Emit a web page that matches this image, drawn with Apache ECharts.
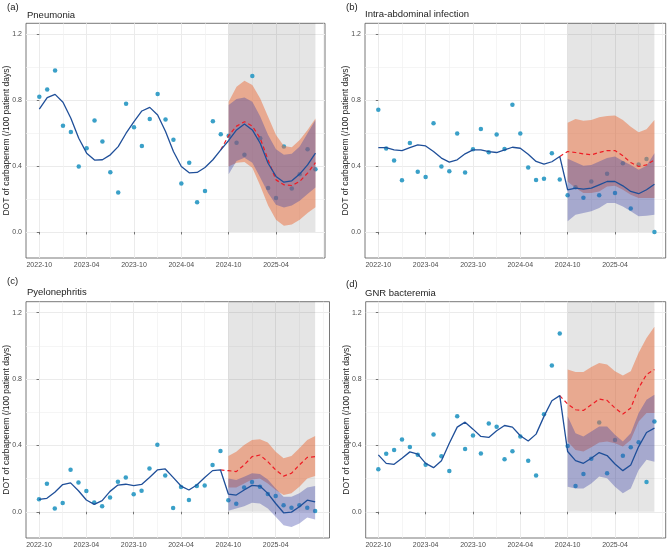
<!DOCTYPE html>
<html>
<head>
<meta charset="utf-8">
<script src="https://cdn.jsdelivr.net/npm/echarts@6/dist/echarts.min.js"></script>
<style>
    html, body { margin: 0; padding: 0; background: #fff; }
    #chart { width: 669px; height: 550px; }
</style>
</head>
<body>
<div id="chart"></div>
<script>
// months are counted from 2022-10 (index 0) to 2025-09 (index 35)
var xTickValues = [0, 6, 12, 18, 24, 30];
var xTickLabels = ['2022-10', '2023-04', '2023-10', '2024-04', '2024-10', '2025-04'];
var xMinorValues = [3, 9, 15, 21, 27, 33, 36];
var yTickValues = [0, 0.4, 0.8, 1.2];
var yMinorValues = [0.2, 0.6, 1.0];
var shadeMonths = [24, 35];
var forecastStart = 24;   // first month of the bands
var counterStart = 23;    // red dashed line starts one month earlier

// (a) Pneumonia
var pneumoniaObs  = [0.82, 0.865, 0.98, 0.645, 0.607, 0.397, 0.508, 0.676, 0.549, 0.363, 0.24, 0.778, 0.635, 0.522, 0.686, 0.837, 0.682, 0.559, 0.294, 0.42, 0.18, 0.248, 0.672, 0.593, 0.583, 0.542, 0.468, 0.947, 0.569, 0.266, 0.206, 0.518, 0.264, 0.35, 0.502, 0.381];
var pneumoniaFit  = [0.746, 0.815, 0.835, 0.787, 0.69, 0.569, 0.478, 0.436, 0.438, 0.468, 0.518, 0.599, 0.67, 0.734, 0.756, 0.71, 0.609, 0.488, 0.397, 0.359, 0.361, 0.391, 0.438, 0.498, 0.555, 0.619, 0.655, 0.619, 0.538, 0.417, 0.337, 0.302, 0.31, 0.351, 0.407, 0.478];
var pneumoniaCf   = [0.498, 0.585, 0.642, 0.669, 0.642, 0.568, 0.437, 0.316, 0.286, 0.282, 0.306, 0.357, 0.421];
var pneumoniaCfHi = [0.79, 0.881, 0.917, 0.891, 0.81, 0.699, 0.588, 0.522, 0.514, 0.558, 0.619, 0.689];
var pneumoniaCfLo = [0.397, 0.42, 0.425, 0.39, 0.28, 0.16, 0.074, 0.038, 0.045, 0.074, 0.115, 0.15];
var pneumoniaFcHi = [0.77, 0.806, 0.816, 0.79, 0.7, 0.589, 0.502, 0.468, 0.474, 0.518, 0.599, 0.68];
var pneumoniaFcLo = [0.35, 0.43, 0.45, 0.42, 0.33, 0.236, 0.165, 0.149, 0.16, 0.19, 0.23, 0.27];

// (b) Intra-abdominal infection
var abdominalObs  = [0.742, 0.506, 0.434, 0.313, 0.539, 0.365, 0.333, 0.66, 0.397, 0.369, 0.597, 0.361, 0.502, 0.625, 0.484, 0.591, 0.504, 0.772, 0.597, 0.391, 0.315, 0.323, 0.478, 0.319, 0.222, 0.272, 0.208, 0.306, 0.222, 0.353, 0.236, 0.417, 0.143, 0.409, 0.442, 0.0];
var abdominalFit  = [0.512, 0.512, 0.498, 0.494, 0.512, 0.528, 0.522, 0.488, 0.448, 0.424, 0.438, 0.474, 0.498, 0.498, 0.488, 0.482, 0.498, 0.514, 0.508, 0.472, 0.428, 0.411, 0.426, 0.458, 0.256, 0.266, 0.26, 0.266, 0.286, 0.306, 0.306, 0.28, 0.246, 0.232, 0.256, 0.29];
var abdominalCf   = [0.458, 0.488, 0.482, 0.474, 0.468, 0.482, 0.494, 0.494, 0.462, 0.421, 0.397, 0.407, 0.438];
var abdominalCfHi = [0.663, 0.685, 0.675, 0.679, 0.696, 0.704, 0.706, 0.679, 0.639, 0.605, 0.623, 0.679];
var abdominalCfLo = [0.306, 0.266, 0.236, 0.236, 0.246, 0.276, 0.28, 0.256, 0.226, 0.206, 0.206, 0.206];
var abdominalFcHi = [0.444, 0.423, 0.401, 0.407, 0.427, 0.448, 0.458, 0.431, 0.407, 0.377, 0.401, 0.478];
var abdominalFcLo = [0.065, 0.105, 0.115, 0.125, 0.145, 0.175, 0.175, 0.155, 0.125, 0.095, 0.099, 0.105];

// (c) Pyelonephritis
var pyeloObs  = [0.076, 0.169, 0.02, 0.053, 0.253, 0.177, 0.125, 0.056, 0.034, 0.086, 0.181, 0.206, 0.105, 0.127, 0.261, 0.404, 0.219, 0.023, 0.15, 0.071, 0.155, 0.159, 0.282, 0.367, 0.07, 0.048, 0.147, 0.18, 0.151, 0.107, 0.095, 0.04, 0.024, 0.04, 0.024, 0.004];
var pyeloFit  = [0.075, 0.081, 0.118, 0.164, 0.174, 0.127, 0.071, 0.045, 0.067, 0.123, 0.161, 0.166, 0.157, 0.165, 0.207, 0.252, 0.258, 0.207, 0.155, 0.131, 0.161, 0.207, 0.248, 0.252, 0.107, 0.101, 0.131, 0.159, 0.155, 0.111, 0.05, -0.006, -0.002, 0.03, 0.07, 0.06];
var pyeloCf   = [0.252, 0.248, 0.242, 0.282, 0.332, 0.342, 0.302, 0.252, 0.215, 0.232, 0.282, 0.328, 0.332];
var pyeloCfHi = [0.336, 0.362, 0.403, 0.433, 0.437, 0.417, 0.362, 0.322, 0.336, 0.383, 0.433, 0.457];
var pyeloCfLo = [0.147, 0.147, 0.171, 0.195, 0.201, 0.171, 0.131, 0.101, 0.111, 0.151, 0.201, 0.215];
var pyeloFcHi = [0.201, 0.191, 0.211, 0.232, 0.228, 0.195, 0.141, 0.091, 0.091, 0.111, 0.147, 0.155];
var pyeloFcLo = [0.006, 0.02, 0.034, 0.054, 0.05, 0.02, -0.03, -0.081, -0.091, -0.07, -0.034, -0.046];

// (d) GNR bacteremia
var gnrObs  = [0.256, 0.349, 0.373, 0.435, 0.391, 0.343, 0.284, 0.466, 0.335, 0.246, 0.575, 0.379, 0.46, 0.351, 0.532, 0.512, 0.317, 0.365, 0.454, 0.308, 0.218, 0.587, 0.881, 1.075, 0.397, 0.155, 0.228, 0.319, 0.538, 0.232, 0.433, 0.337, 0.389, 0.419, 0.18, 0.544];
var gnrFit  = [0.343, 0.292, 0.286, 0.323, 0.361, 0.347, 0.292, 0.266, 0.308, 0.413, 0.51, 0.54, 0.498, 0.454, 0.448, 0.488, 0.52, 0.51, 0.458, 0.427, 0.468, 0.575, 0.669, 0.70, 0.363, 0.308, 0.292, 0.323, 0.357, 0.339, 0.288, 0.248, 0.282, 0.393, 0.478, 0.504];
var gnrCf   = [0.70, 0.649, 0.615, 0.611, 0.645, 0.679, 0.671, 0.625, 0.589, 0.625, 0.746, 0.827, 0.857];
var gnrCfHi = [0.857, 0.843, 0.843, 0.873, 0.897, 0.887, 0.847, 0.821, 0.847, 0.958, 1.048, 1.115];
var gnrCfLo = [0.423, 0.373, 0.363, 0.389, 0.417, 0.423, 0.413, 0.393, 0.433, 0.544, 0.595, 0.595];
var gnrFcHi = [0.575, 0.474, 0.454, 0.484, 0.514, 0.514, 0.464, 0.423, 0.474, 0.595, 0.675, 0.706];
var gnrFcLo = [0.151, 0.141, 0.141, 0.171, 0.212, 0.202, 0.151, 0.111, 0.141, 0.252, 0.313, 0.302];

var panels = [
    {tag: '(a)', title: 'Pneumonia',                 obs: pneumoniaObs, fit: pneumoniaFit, cf: pneumoniaCf, cfHi: pneumoniaCfHi, cfLo: pneumoniaCfLo, fcHi: pneumoniaFcHi, fcLo: pneumoniaFcLo},
    {tag: '(b)', title: 'Intra-abdominal infection', obs: abdominalObs, fit: abdominalFit, cf: abdominalCf, cfHi: abdominalCfHi, cfLo: abdominalCfLo, fcHi: abdominalFcHi, fcLo: abdominalFcLo},
    {tag: '(c)', title: 'Pyelonephritis',            obs: pyeloObs,     fit: pyeloFit,     cf: pyeloCf,     cfHi: pyeloCfHi,     cfLo: pyeloCfLo,     fcHi: pyeloFcHi,     fcLo: pyeloFcLo},
    {tag: '(d)', title: 'GNR bacteremia',            obs: gnrObs,       fit: gnrFit,       cf: gnrCf,       cfHi: gnrCfHi,       cfLo: gnrCfLo,       fcHi: gnrFcHi,       fcLo: gnrFcLo}
];

// layout of the four panels (pixels) and their x range in months
var layout = [
    {left: 26,  top: 23.3,  width: 299,   height: 234.7, xMin: -1.686, xMax: 36.21, tagX: 7,   tagY: 2,   titleX: 27,  titleY: 10},
    {left: 365, top: 23.3,  width: 300.7, height: 234.7, xMin: -1.686, xMax: 36.43, tagX: 346, tagY: 2,   titleX: 365, titleY: 9},
    {left: 26,  top: 301.7, width: 303.5, height: 236.3, xMin: -1.65,  xMax: 36.82, tagX: 7,   tagY: 276, titleX: 27,  titleY: 287},
    {left: 365.7, top: 301.7, width: 300, height: 236.3, xMin: -1.6,   xMax: 36.43, tagX: 346, tagY: 279, titleX: 365, titleY: 288}
];
var yMin = -0.158, yMax = 1.266;

var font = "'Liberation Sans', Arial, Helvetica, sans-serif";
var pointColor = '#3aa0c8';
var fitColor   = '#1f4f99';
var cfColor    = '#ee1c25';
var cfFill     = 'rgba(235, 110, 60, 0.5)';
var fcFill     = 'rgba(55, 65, 165, 0.36)';

function pairs(start, arr)
{
    return arr.map(function(v, i) { return [start + i, v]; });
}

function bandSeries(g, lo, hi, fill, z)
{
    var rows = lo.map(function(v, i) { return [forecastStart + i, v, hi[i]]; });
    return {
        type: 'custom',
        xAxisIndex: g * 2,
        yAxisIndex: g * 2,
        z: z,
        silent: true,
        clip: true,
        encode: {x: 0, y: [1, 2]},
        data: rows,
        renderItem: function(params, api)
        {
            if(params.dataIndex !== 0) return null;
            var pts = [];
            for(var i = 0; i < rows.length; i++) pts.push(api.coord([rows[i][0], rows[i][2]]));
            for(var j = rows.length - 1; j >= 0; j--) pts.push(api.coord([rows[j][0], rows[j][1]]));
            return {type: 'polygon', shape: {points: pts}, style: {fill: fill}};
        }
    };
}

function shadeSeries(g)
{
    return {
        type: 'custom',
        xAxisIndex: g * 2,
        yAxisIndex: g * 2,
        z: 1,
        silent: true,
        data: [[shadeMonths[0], 0, shadeMonths[1], yMax]],
        renderItem: function(params, api)
        {
            var p0 = api.coord([api.value(0), api.value(3)]);
            var p1 = api.coord([api.value(2), api.value(1)]);
            return {type: 'rect', shape: {x: p0[0], y: p0[1], width: p1[0] - p0[0], height: p1[1] - p0[1]}, style: {fill: 'rgba(0,0,0,0.1)'}};
        }
    };
}

var grids = [], xAxes = [], yAxes = [], series = [], titles = [];

panels.forEach(function(p, g)
{
    var L = layout[g];
    grids.push({
        left: L.left, top: L.top, width: L.width, height: L.height,
        show: true, borderColor: '#555', borderWidth: 0.8,
        containLabel: false, outerBoundsMode: 'none'
    });

    xAxes.push({
        gridIndex: g, type: 'value', min: L.xMin, max: L.xMax,
        axisLine: {show: false},
        axisTick: {show: true, customValues: xTickValues, length: 2.5, lineStyle: {color: '#555', width: 0.8}},
        axisLabel: {customValues: xTickValues, fontSize: 7, color: '#4d4d4d', margin: 4, fontFamily: font,
            formatter: function(v) { return xTickLabels[xTickValues.indexOf(Math.round(v))]; }},
        splitLine: {show: true, lineStyle: {color: '#ebebeb', width: 1}}
    });
    xAxes.push({
        gridIndex: g, type: 'value', min: L.xMin, max: L.xMax,
        axisLine: {show: false},
        axisTick: {show: false, customValues: xMinorValues},
        axisLabel: {show: false, customValues: xMinorValues},
        splitLine: {show: true, lineStyle: {color: '#f1f1f1', width: 0.7}}
    });

    yAxes.push({
        gridIndex: g, type: 'value', min: yMin, max: yMax,
        axisLine: {show: false},
        axisTick: {show: true, customValues: yTickValues, length: 2.5, lineStyle: {color: '#555', width: 0.8}},
        axisLabel: {customValues: yTickValues, fontSize: 7, color: '#4d4d4d', margin: 4, fontFamily: font,
            formatter: function(v) { return v.toFixed(1); }},
        splitLine: {show: true, lineStyle: {color: '#ebebeb', width: 1}},
        name: 'DOT of carbapenem (/100 patient days)',
        nameLocation: 'middle', nameGap: 15, nameMoveOverlap: false,
        nameTextStyle: {fontSize: 8.5, color: '#222', fontFamily: font}
    });
    yAxes.push({
        gridIndex: g, type: 'value', min: yMin, max: yMax,
        axisLine: {show: false},
        axisTick: {show: false, customValues: yMinorValues},
        axisLabel: {show: false, customValues: yMinorValues},
        splitLine: {show: true, lineStyle: {color: '#f1f1f1', width: 0.7}}
    });

    titles.push({text: p.tag, left: L.tagX, top: L.tagY, padding: 0,
        textStyle: {fontSize: 9.5, fontWeight: 'normal', color: '#222', fontFamily: font}});
    titles.push({text: p.title, left: L.titleX, top: L.titleY, padding: 0,
        textStyle: {fontSize: 9.5, fontWeight: 'normal', color: '#222', fontFamily: font}});

    series.push(shadeSeries(g));
    series.push({
        type: 'scatter', xAxisIndex: g * 2, yAxisIndex: g * 2, z: 2,
        symbolSize: 4.5, itemStyle: {color: pointColor, opacity: 1},
        data: pairs(0, p.obs)
    });
    series.push(bandSeries(g, p.cfLo, p.cfHi, cfFill, 3));
    series.push(bandSeries(g, p.fcLo, p.fcHi, fcFill, 4));
    series.push({
        type: 'line', xAxisIndex: g * 2, yAxisIndex: g * 2, z: 5,
        showSymbol: false, symbol: 'none',
        lineStyle: {color: cfColor, width: 1.2, type: [4, 3]},
        data: pairs(counterStart, p.cf)
    });
    series.push({
        type: 'line', xAxisIndex: g * 2, yAxisIndex: g * 2, z: 6,
        showSymbol: false, symbol: 'none',
        lineStyle: {color: fitColor, width: 1.3},
        data: pairs(0, p.fit)
    });
});

var chart = echarts.init(document.getElementById('chart'), null, {renderer: 'canvas'});
chart.setOption({
    animation: false,
    backgroundColor: '#fff',
    textStyle: {fontFamily: font},
    title: titles,
    grid: grids,
    xAxis: xAxes,
    yAxis: yAxes,
    series: series
});
</script>
</body>
</html>
